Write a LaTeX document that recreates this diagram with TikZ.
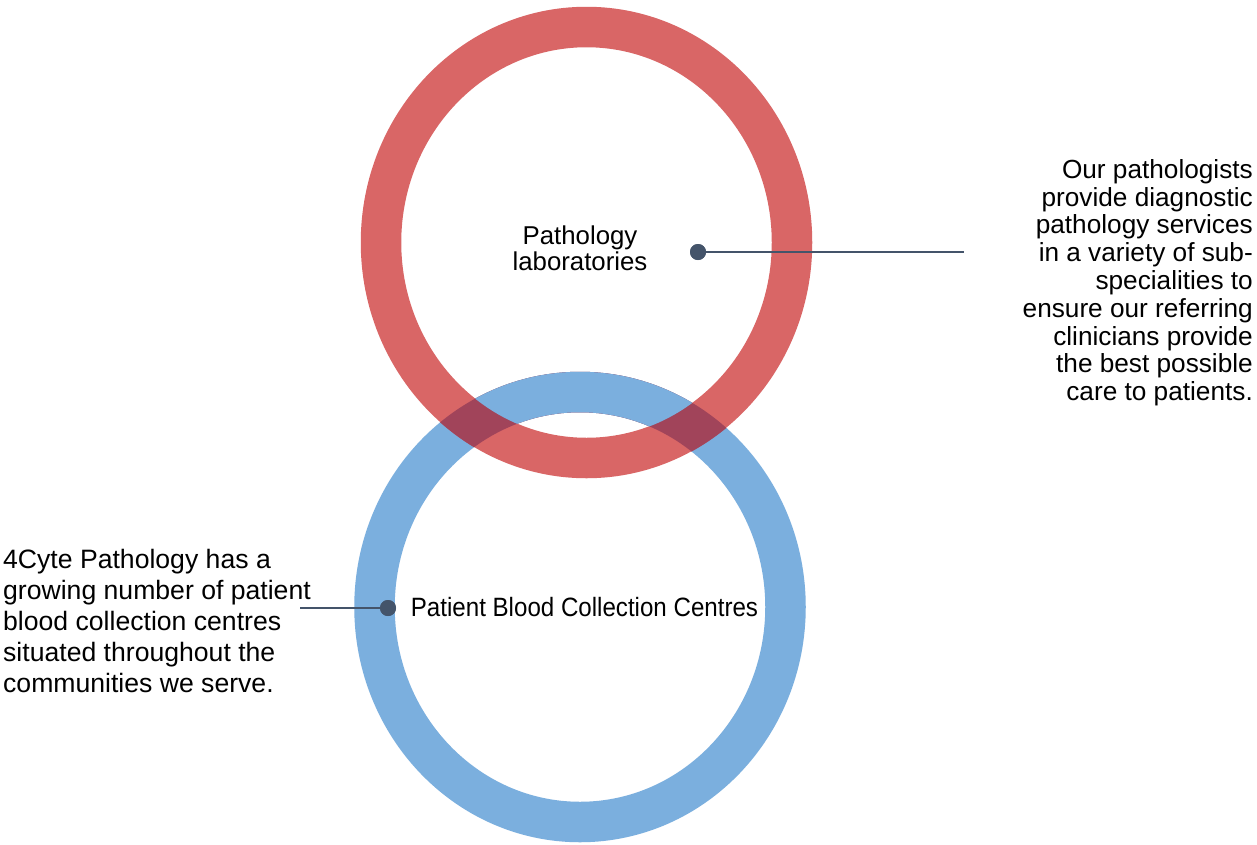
\documentclass[tikz,border=0pt]{standalone}
\usepackage{fontspec}
\setmainfont{Liberation Sans}
\definecolor{ringred}{HTML}{D96666}
\definecolor{ringblue}{HTML}{7BAFDE}
\definecolor{ringdark}{HTML}{A1445A}
\definecolor{slate}{HTML}{44546A}
\begin{document}
\begin{tikzpicture}[x=1pt,y=-1pt,
  redring/.style={draw=ringred,line width=40.5pt},
  bluering/.style={draw=ringblue,line width=40.5pt},
  darkring/.style={draw=ringdark,line width=40.5pt},
  dotnode/.style={circle,fill=slate,minimum size=16pt,inner sep=0pt},
  conn/.style={draw=slate,line width=1.4pt},
  lbl/.style={inner sep=0pt,text=black}]
\useasboundingbox (0,0) rectangle (1257,844);
\fill[white] (0,0) rectangle (1257,844);
% rings
\path[bluering] (580,607) ellipse [x radius=205.5, y radius=215];
\path[redring] (586.5,242.5) ellipse [x radius=205.5, y radius=215.5];
\begin{scope}
  \clip (586.5,242.5) ellipse [x radius=226, y radius=236];
  \path[darkring] (580,607) ellipse [x radius=205.5, y radius=215];
  \begin{scope}
    \clip (586.5,242.5) ellipse [x radius=185, y radius=195.5];
    \path[bluering] (580,607) ellipse [x radius=205.5, y radius=215];
  \end{scope}
\end{scope}
% labels
\node[lbl,anchor=north,align=center,font=\fontsize{25.8}{26}\selectfont] (path) at (580,225.8) {Pathology\\laboratories};
\node[lbl,anchor=base] (pbcc) at (584.5,616.7) {\fontsize{26.5}{30}\selectfont\scalebox{0.91}[1]{Patient Blood Collection Centres}};
\node[lbl,anchor=north east,align=right,font=\fontsize{26.2}{27.8}\selectfont] (rtext) at (1253,159.2) {Our pathologists\\provide diagnostic\\pathology services\\in a variety of sub-\\specialities to\\ensure our referring\\clinicians provide\\the best possible\\care to patients.};
\node[lbl,anchor=north west,align=left,font=\fontsize{26.6}{31}\selectfont] (ltext) at (3,549) {4Cyte Pathology has a\\growing number of patient\\blood collection centres\\situated throughout the\\communities we serve.};
% connectors
\coordinate (rEnd) at (964,252);
\coordinate (lEnd) at (300,608);
\node[dotnode] (dotR) at (698,252) {};
\node[dotnode] (dotL) at (388,608) {};
\draw[conn] (dotR.center) -- (rEnd);
\draw[conn] (lEnd) -- (dotL.center);
\node[dotnode] at (dotR) {};
\node[dotnode] at (dotL) {};
\end{tikzpicture}
\end{document}
